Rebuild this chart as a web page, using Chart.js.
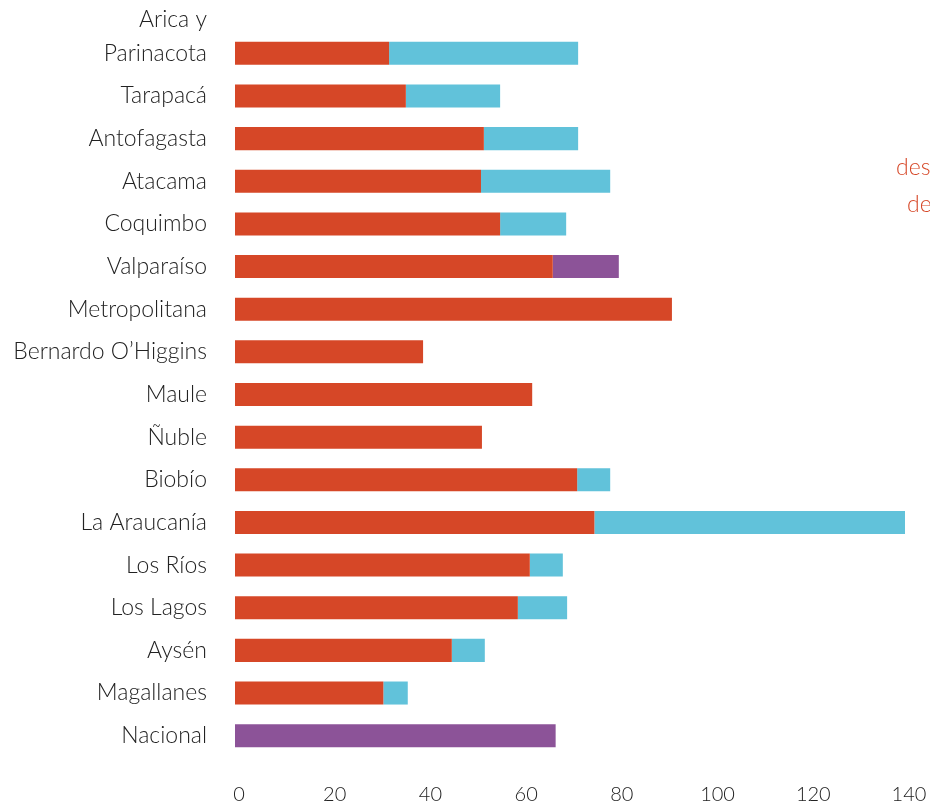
<!DOCTYPE html>
<html>
<head>
<meta charset="utf-8">
<script src="https://cdn.jsdelivr.net/npm/chart.js@4.4.1/dist/chart.umd.min.js"></script>
<style>
  html, body { margin: 0; padding: 0; background: #fff; overflow: hidden; }
  #wrap { width: 930px; height: 807px; }
</style>
</head>
<body>
<div id="wrap"><canvas id="myChart" width="930" height="807"></canvas></div>
<script>
// regiones (la primera en dos líneas)
const regiones = [
  ['Arica y', 'Parinacota', ''], 'Tarapacá', 'Antofagasta', 'Atacama', 'Coquimbo',
  'Valparaíso', 'Metropolitana', 'Bernardo O’Higgins', 'Maule', 'Ñuble', 'Biobío',
  'La Araucanía', 'Los Ríos', 'Los Lagos', 'Aysén', 'Magallanes', 'Nacional'
];
// tramo rojo
const serieRoja = [32.2, 35.7, 52.0, 51.4, 55.4, 66.4, 91.3, 39.3, 62.1, 51.6, 71.5, 75.1, 61.6, 59.1, 45.3, 31.0, null];
// tramo celeste
const serieCeleste = [39.5, 19.7, 19.7, 27.0, 13.8, null, null, null, null, null, 6.9, 64.9, 6.9, 10.3, 6.9, 5.1, null];
// tramo morado
const serieMorada = [null, null, null, null, null, 13.8, null, null, null, null, null, null, null, null, null, null, 67.0];
// ticks del eje x
const ticksX = [0, 20, 40, 60, 80, 100, 120, 140];

const fuente = 'Lato, "Open Sans", sans-serif';

// texto cortado a la derecha
const notaDerecha = {
  id: 'notaDerecha',
  afterDraw(chart) {
    const c = chart.ctx;
    c.save();
    c.fillStyle = '#D64727';
    c.font = '300 23px ' + fuente;
    c.textBaseline = 'middle';
    c.textAlign = 'left';
    c.fillText('des', 896, 168);
    c.fillText('de', 907, 205);
    c.restore();
  }
};

let ctx = document.getElementById('myChart').getContext('2d');
let chart = new Chart(ctx, {
  type: 'bar',
  data: {
    labels: regiones,
    datasets: [
      { label: 'rojo', data: serieRoja, backgroundColor: '#D64727' },
      { label: 'celeste', data: serieCeleste, backgroundColor: '#61C2DA' },
      { label: 'morado', data: serieMorada, backgroundColor: '#8C5398' }
    ]
  },
  options: {
    indexAxis: 'y',
    responsive: false,
    animation: false,
    layout: { padding: { top: 32, right: 25, left: 0, bottom: 0 } },
    datasets: { bar: { barPercentage: 1, categoryPercentage: 0.54, borderWidth: 0 } },
    plugins: { legend: { display: false }, tooltip: { enabled: false } },
    scales: {
      x: {
        stacked: true,
        min: 0,
        max: 140,
        afterBuildTicks: s => { s.ticks = ticksX.map(v => ({ value: v })); },
        afterFit: s => { s.paddingLeft = 0; s.paddingRight = 0; s.height = 50; },
        grid: { display: false, drawTicks: false },
        border: { display: false },
        ticks: {
          padding: 26,
          labelOffset: 4,
          maxRotation: 0,
          color: '#222',
          font: { family: fuente, size: 20, weight: '300' }
        }
      },
      y: {
        stacked: true,
        grid: { display: false, drawTicks: false },
        border: { display: false },
        afterFit: s => { s.width = 235; s.paddingTop = 0; s.paddingBottom = 0; },
        ticks: {
          autoSkip: false,
          padding: 28,
          color: '#222',
          font: { family: fuente, size: 23, weight: '300', lineHeight: 1.45 }
        }
      }
    }
  },
  plugins: [notaDerecha]
});
</script>
</body>
</html>
